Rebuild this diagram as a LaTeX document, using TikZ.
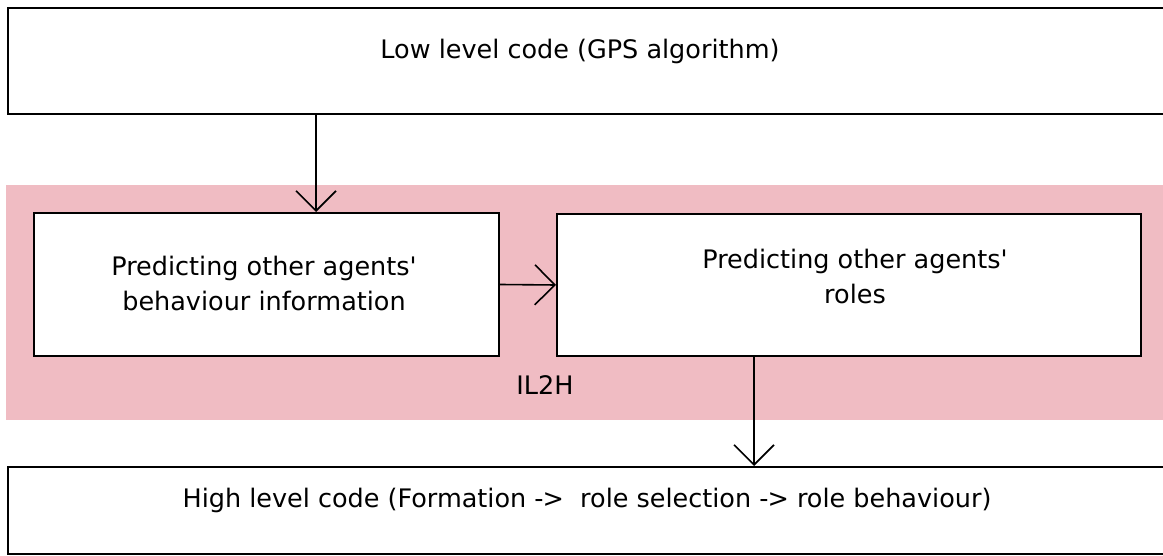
\documentclass[tikz,border=0pt]{standalone}
\usepackage{fontspec}
\setmainfont{DejaVu Sans}
\usetikzlibrary{arrows.meta}
\definecolor{bandpink}{RGB}{240,188,195}
\tikzset{
  box/.style={draw=black, line width=2pt, fill=white, inner sep=0pt, anchor=north west},
  lbl/.style={font=\fontsize{25.5}{35}\selectfont, align=center, inner sep=0pt},
  arr/.style={draw=black, line width=1.6pt, -{Straight Barb[length=20pt,width=40pt,line width=1.6pt]}}
}
\begin{document}
\begin{tikzpicture}[x=1pt,y=-1pt]
  \clip (0,0) rectangle (1163,556);
  \fill[white] (0,0) rectangle (1163,556);
  % IL2H band
  \fill[bandpink] (6,185) rectangle (1175,420);
  % boxes
  \node[box, minimum width=1168pt, minimum height=106pt] (top) at (7,7) {};
  \node[box, minimum width=465pt, minimum height=143pt] (lbox) at (33,212) {};
  \node[box, minimum width=584pt, minimum height=142pt] (rbox) at (556,213) {};
  \node[box, minimum width=1168pt, minimum height=87pt] (bot) at (7,466) {};
  % labels
  \node[lbl] (ttop) at (580,51) {Low level code (GPS algorithm)};
  \node[lbl] (tl) at (264,283) {Predicting other agents\textquotesingle\\behaviour information};
  \node[lbl] (tr) at (855,276) {Predicting other agents\textquotesingle\\roles};
  \node[lbl] (band) at (545,385) {IL2H};
  \node[lbl] (tbot) at (587,500) {High level code (Formation -\kern-1pt>\ \ role selection -\kern-1pt> role behaviour)};
  % connectors
  \draw[arr] (top.south -| 316,0) -- (lbox.north -| 316,0);
  \draw[arr] (lbox.east) -- (rbox.west);
  \draw[arr] (rbox.south -| 754,0) -- (bot.north -| 754,0);
\end{tikzpicture}
\end{document}
